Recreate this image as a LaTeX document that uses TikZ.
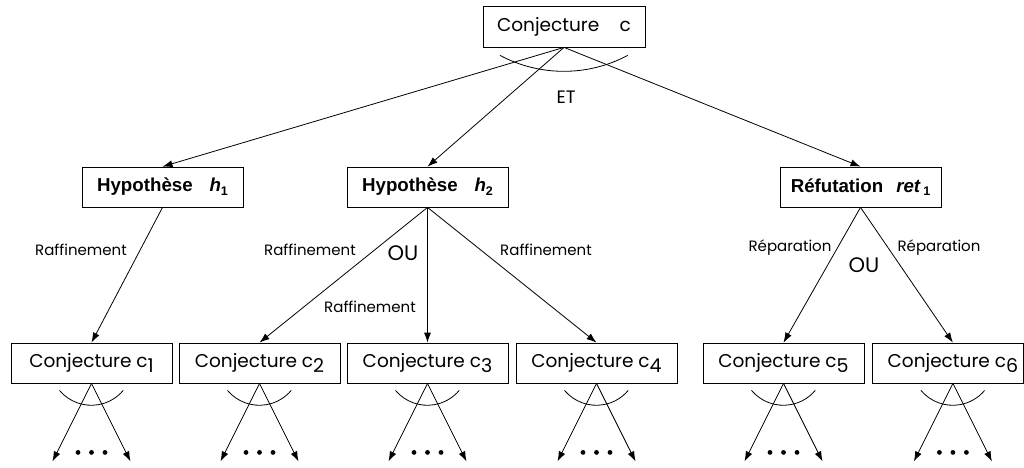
\documentclass[tikz,border=0pt]{standalone}
\usepackage{fontspec}
\setmainfont{Poppins}
\newfontfamily\hv{Liberation Sans}
\usetikzlibrary{arrows.meta,calc}
% lowered index digit, as printed after c and h
\newcommand\lowidx[1]{\raisebox{-5pt}{\fontsize{19}{19}\selectfont #1}}
\newcommand\boldidx[1]{\raisebox{-0.35ex}{\fontsize{12.5}{12.5}\selectfont #1}}
\begin{document}
\begin{tikzpicture}[x=1pt,y=-1pt,
  conj/.style={draw, rectangle, minimum width=161pt, minimum height=40pt, inner sep=0pt, line width=0.8pt, font=\fontsize{18.5}{20}\selectfont},
  hyp/.style={draw, rectangle, minimum width=161pt, minimum height=40pt, inner sep=0pt, line width=0.8pt, font=\hv\bfseries\fontsize{18.7}{20}\selectfont},
  lbl/.style={font=\fontsize{15}{17}\selectfont},
  oulbl/.style={font=\fontsize{21}{23}\selectfont},
  arr/.style={-{Latex[length=10pt,width=7pt]}, line width=0.8pt},
  joinarc/.style={line width=0.8pt}
]
\useasboundingbox (0,0) rectangle (1024,467);

% root conjecture
\node[conj, minimum width=162pt, minimum height=41pt] (c) at (564,26.5) {Conjecture\hspace{1.1em}c};

% second level
\node[hyp] (h1) at (162.5,187) {Hypothèse\hspace{0.9em}{\itshape h}\boldidx{1}};
\node[hyp] (h2) at (427.5,187) {Hypothèse\hspace{0.9em}{\itshape h}\boldidx{2}};
\node[hyp] (r1) at (860.5,187) {Réfutation\hspace{0.7em}{\itshape ret}\,\boldidx{1}};

% leaf conjectures
\node[conj] (c1) at (91.5,363) {Conjecture c\lowidx{1}};
\node[conj] (c2) at (259.5,363) {Conjecture c\lowidx{2}};
\node[conj] (c3) at (427.5,363) {Conjecture c\lowidx{3}};
\node[conj] (c4) at (596.5,363) {Conjecture c\lowidx{4}};
\node[conj] (c5) at (783.5,363) {Conjecture c\lowidx{5}};
\node[conj, anchor=west, minimum width=151pt] (c6) at (872,363) {\hspace{10pt}Conjecture c\lowidx{6}};
\coordinate (c6n) at ($(c6.north)+(5,0)$);

% AND link from the root
\draw[arr] (c.south) -- (h1.north);
\draw[arr] (c.south) -- (h2.north);
\draw[arr] (c.south) -- (r1.north);
\draw[joinarc] ($(c.south)+(-64,8)$) arc[start angle=118, end angle=62, radius=136];
\node[font=\fontsize{18}{20}\selectfont] (et) at (566,97) {ET};

% refinements
\draw[arr] (h1.south) -- (c1.north);
\draw[arr] (h2.south) -- (c2.north);
\draw[arr] (h2.south) -- (c3.north);
\draw[arr] (h2.south) -- (c4.north);
\draw[arr] (r1.south) -- (c5.north);
\draw[arr] (r1.south) -- (c6n);

\node[lbl] (l1) at (81,250) {Raffinement};
\node[lbl] (l2) at (310,250) {Raffinement};
\node[lbl] (l3) at (370,307) {Raffinement};
\node[lbl] (l4) at (546,250) {Raffinement};
\node[oulbl] (ou1) at (403,253) {OU};
\node[lbl] (p1) at (790,248) {Réparation};
\node[lbl] (p2) at (939,248) {Réparation};
\node[oulbl] (ou2) at (864,265) {OU};

% AND expansion below each leaf
\coordinate (s1) at (c1.south);
\coordinate (s2) at (c2.south);
\coordinate (s3) at (c3.south);
\coordinate (s4) at (c4.south);
\coordinate (s5) at (c5.south);
\coordinate (s6) at ($(c6.south)+(5,0)$);
\foreach \i in {1,...,6}{
  \coordinate (a\i) at ($(s\i)+(-39,78)$);
  \coordinate (b\i) at ($(s\i)+(39,78)$);
  \draw[arr] (s\i) -- (a\i);
  \draw[arr] (s\i) -- (b\i);
  \draw[joinarc] ($(s\i)+(-32,7)$) arc[start angle=140, end angle=40, radius=41.6];
  \foreach \dx in {-13.5,0,13.5}
    \fill ($(s\i)+(\dx,69)$) circle (2.4pt);
}
\end{tikzpicture}
\end{document}
